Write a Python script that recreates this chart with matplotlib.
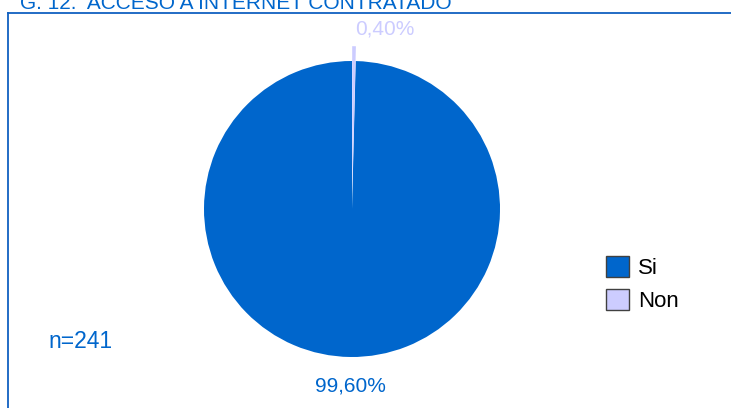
import matplotlib.pyplot as plt
from matplotlib.patches import Patch
from matplotlib.lines import Line2D

plt.rcParams['font.family'] = ['Liberation Sans', 'DejaVu Sans']

# data
labels = ['Si', 'Non']
values = [99.6, 0.4]
colors = ['#0066CC', '#CCCCFF']
title = 'G. 12.  ACCESO A INTERNET CONTRATADO'
n_text = 'n=241'

W, H = 731, 408
fig = plt.figure(figsize=(W / 100, H / 100), dpi=100)

def fx(x):
    return x / W

def fy(y):
    return 1 - y / H

# frame lines (top and left only)
fig.add_artist(Line2D([fx(8), fx(731)], [fy(13), fy(13)], color='#1060C0', lw=1.3))
fig.add_artist(Line2D([fx(8), fx(8)], [fy(13), fy(408)], color='#1060C0', lw=1.3))

# title, partially cut off at top
fig.text(fx(20), fy(9), title, color='#0066CC', fontsize=15, ha='left', va='baseline')

# pie
cx, cy, r = 352, 209, 148
ax = fig.add_axes([fx(cx - r), fy(cy + r), 2 * r / W, 2 * r / H])
wedges, _ = ax.pie(values, colors=colors, startangle=90, counterclock=True,
                   explode=[0, 0.1], radius=1, wedgeprops=dict(linewidth=0))
for w in wedges:
    w.set_clip_on(False)
ax.set_xlim(-1, 1)
ax.set_ylim(-1, 1)
ax.set_aspect('equal')
ax.axis('off')

pct = [('%.2f%%' % v).replace('.', ',') for v in values]
ax.text(-0.01, -1.195, pct[0], color='#0066CC', fontsize=15, ha='center', va='center')
ax.text(0.02, 1.215, pct[1], color='#CCCCFF', fontsize=15, ha='left', va='center')

fig.text(fx(48), fy(342), n_text, color='#0066CC', fontsize=16.5, ha='left', va='center')

handles = [Patch(facecolor=c, edgecolor='#404040', linewidth=1) for c in colors]
fig.legend(handles, labels, loc='upper left', bbox_to_anchor=(fx(606), fy(256)),
           frameon=False, fontsize=16, handlelength=1.05, handleheight=1.05,
           handletextpad=0.4, labelspacing=0.45, borderpad=0, borderaxespad=0)

fig.savefig('out.png', dpi=100)
